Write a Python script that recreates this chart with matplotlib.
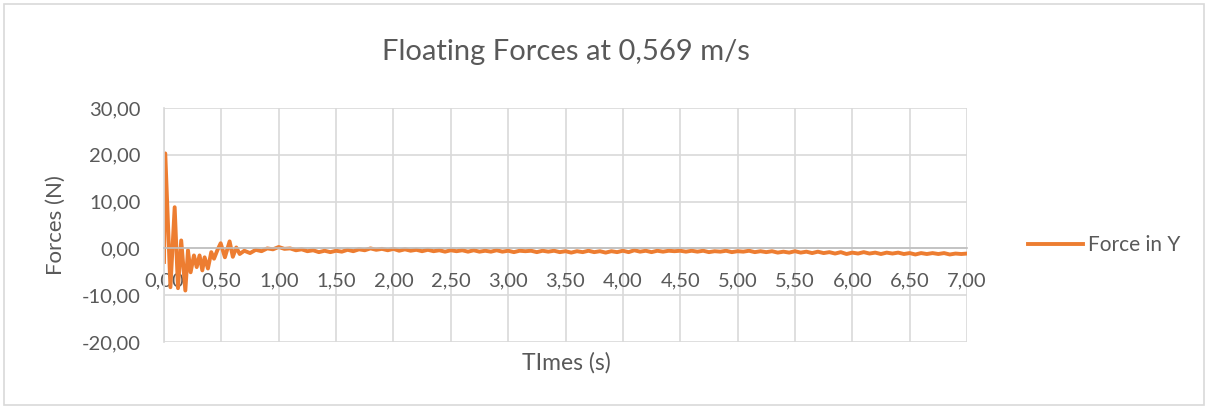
"""
Floating forces at 0,569 m/s: force in Y over time.
"""

import matplotlib.pyplot as plt
from matplotlib.patches import Rectangle
from matplotlib.ticker import FuncFormatter, MultipleLocator

# early transient (read point by point from the peaks and dips)
t_early = [0.000, 0.011, 0.056, 0.093, 0.122, 0.150, 0.186, 0.209, 0.232,
           0.261, 0.285, 0.310, 0.334, 0.354, 0.383, 0.412, 0.436, 0.465,
           0.494, 0.531, 0.572, 0.600, 0.630, 0.660, 0.700]
f_early = [-2.9, 20.3, -8.3, 8.8, -8.5, 1.7, -9.0, -0.4, -5.1,
           -1.5, -4.0, -1.5, -4.7, -1.9, -4.3, -0.8, -2.2, -0.4,
           1.1, -1.9, 1.5, -1.8, 0.2, -1.2, -0.5]

# settled part, every 0.05 s from 0.75 to 7.00
t_tail_start = 0.75
t_tail_step = 0.05
f_tail = [
    -1.0, -0.3, -0.6, 0.0, -0.2, 0.3, -0.1, 0.0, -0.4, -0.2,
    -0.6, -0.4, -0.8, -0.5, -0.8, -0.5, -0.7, -0.3, -0.6, -0.2,
    -0.4, 0.0, -0.3, -0.1, -0.4, -0.1, -0.5, -0.2, -0.5, -0.3,
    -0.6, -0.3, -0.6, -0.4, -0.7, -0.4, -0.6, -0.4, -0.7, -0.4,
    -0.7, -0.5, -0.7, -0.4, -0.7, -0.5, -0.8, -0.5, -0.6, -0.5,
    -0.8, -0.5, -0.7, -0.5, -0.8, -0.6, -0.9, -0.6, -0.8, -0.5,
    -0.8, -0.6, -0.9, -0.6, -0.8, -0.5, -0.8, -0.4, -0.7, -0.5,
    -0.8, -0.5, -0.7, -0.5, -0.6, -0.5, -0.7, -0.5, -0.7, -0.5,
    -0.8, -0.6, -0.7, -0.5, -0.8, -0.6, -0.7, -0.5, -0.8, -0.6,
    -0.8, -0.6, -0.9, -0.7, -0.9, -0.6, -0.9, -0.7, -1.0, -0.7,
    -1.0, -0.8, -1.1, -0.8, -1.2, -0.9, -1.1, -0.8, -1.1, -0.9,
    -1.2, -0.9, -1.1, -0.9, -1.2, -1.0, -1.3, -1.0, -1.2, -1.0,
    -1.2, -1.0, -1.3, -1.1, -1.2, -1.1,
]

title = "Floating Forces at 0,569 m/s"
x_label = "TImes (s)"
y_label = "Forces (N)"
series_name = "Force in Y"

TEXT = "#595959"
GRID = "#d9d9d9"
ORANGE = "#ed7d31"

plt.rcParams["font.family"] = ["Lato", "DejaVu Sans"]


def comma(v, _pos=None):
    return f"{v:.2f}".replace(".", ",")


t_tail = [round(t_tail_start + i * t_tail_step, 2) for i in range(len(f_tail))]
times = t_early + t_tail
forces = f_early + f_tail

fig = plt.figure(figsize=(12.08, 4.09), dpi=100)
ax = fig.add_axes([164 / 1208, 1 - 342 / 409, (967 - 164) / 1208, (342 - 108) / 409])

ax.plot(times, forces, color=ORANGE, lw=2.8, solid_joinstyle="round", label=series_name)

ax.set_xlim(0, 7)
ax.set_ylim(-20, 30)
ax.xaxis.set_major_locator(MultipleLocator(0.5))
ax.yaxis.set_major_locator(MultipleLocator(10))
ax.xaxis.set_major_formatter(FuncFormatter(comma))
ax.yaxis.set_major_formatter(FuncFormatter(comma))
ax.grid(color=GRID, lw=1.2)
ax.set_axisbelow(True)

for side in ("top", "right"):
    ax.spines[side].set_visible(False)
ax.spines["left"].set_color(GRID)
ax.spines["left"].set_linewidth(1.2)
ax.spines["bottom"].set_position(("data", 0))
ax.spines["bottom"].set_color("#bfbfbf")
ax.spines["bottom"].set_linewidth(1.2)

ax.tick_params(axis="both", length=0, labelsize=14.5, labelcolor=TEXT)
ax.tick_params(axis="x", pad=17)
ax.tick_params(axis="y", pad=17)

fig.text(566 / 1208, 1 - 52 / 409, title, ha="center", va="center", fontsize=21, color=TEXT)
fig.text(566 / 1208, 1 - 363 / 409, x_label, ha="center", va="center", fontsize=16.5, color=TEXT)
fig.text(56 / 1208, 1 - 225 / 409, y_label, ha="center", va="center", rotation=90,
         fontsize=16, color=TEXT)

fig.legend(loc="center left", bbox_to_anchor=(1028 / 1208, 1 - 245 / 409), frameon=False,
           fontsize=15, labelcolor=TEXT, handlelength=2.65, handletextpad=0.25,
           borderpad=0, borderaxespad=0)

fig.patches.append(Rectangle((4 / 1208, 4 / 409), 1200 / 1208, 401 / 409, transform=fig.transFigure,
                             fill=False, edgecolor=GRID, lw=1.2))

fig.savefig("out.png", dpi=100)
